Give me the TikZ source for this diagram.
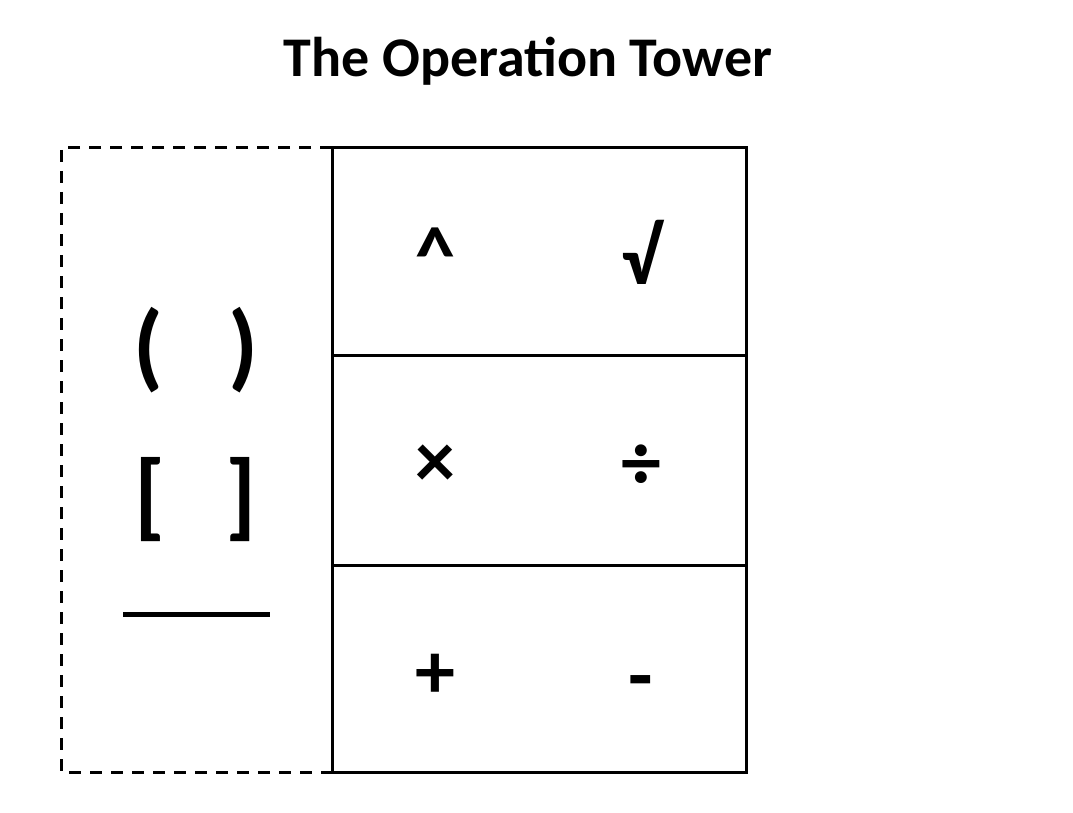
\documentclass[tikz,border=0pt]{standalone}
\usepackage{fontspec}
\setmainfont{Carlito}
\tikzset{
    cell/.style={draw, line width=3pt},
    sym/.style={font=\bfseries\fontsize{80}{80}\selectfont},
    grp/.style={font=\bfseries\fontsize{96}{96}\selectfont}
}
\begin{document}
\begin{tikzpicture}[x=1pt,y=-1pt]
\useasboundingbox (0,0) rectangle (1073,813);

\node[font=\bfseries\fontsize{56}{56}\selectfont] (title) at (528,61) {The Operation Tower};

% tower
\draw[cell] (332,148) rectangle (746,772);
\draw[cell] (332,355) -- (746,355);
\draw[cell] (332,565) -- (746,565);

% grouping column
\draw[line width=3pt, dash pattern=on 12pt off 9pt] (332,148) -- (61,148) -- (61,772) -- (332,772);

\node[sym] (pow) at (435,255) {\^{}};
\node[sym] (root) at (641,252) {√};
\node[sym] (mul) at (435,466) {×};
\node[sym] (div) at (641,467) {÷};
\node[sym] (add) at (435,676) {+};
\node[sym] (sub) at (641,689) {-};

\node[grp] (lpar) at (148,350) {(};
\node[grp] (rpar) at (243,350) {)};
\node[grp] (lbrk) at (150,500) {[};
\node[grp] (rbrk) at (241,500) {]};
\draw[line width=5pt] (123,614) -- (270,614);

\end{tikzpicture}
\end{document}
